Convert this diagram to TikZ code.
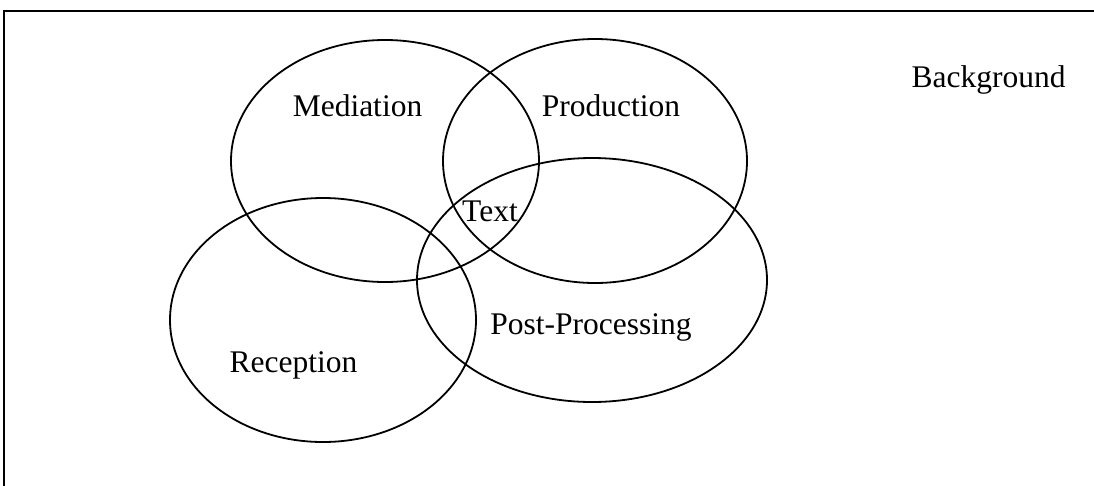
\documentclass[tikz,border=0pt]{standalone}
\usepackage{fontspec}
\setmainfont{Liberation Serif}
\begin{document}
\begin{tikzpicture}[x=1pt,y=-1pt,
  ring/.style={draw=black,line width=1.8pt},
  lbl/.style={anchor=base,inner sep=0pt,font=\fontsize{31.5}{37}\selectfont}]
\useasboundingbox (0,0) rectangle (1094,485);
% frame
\draw[line width=2pt] (4,486) -- (4,11) -- (1095,11);
% ellipses
\draw[ring] (385,161) ellipse [x radius=154, y radius=121];
\draw[ring] (595,161) ellipse [x radius=152, y radius=122];
\draw[ring] (592,280) ellipse [x radius=175, y radius=122];
\draw[ring] (323,320) ellipse [x radius=153, y radius=122];
% labels
\node[lbl] (med) at (357.5,116) {Mediation};
\node[lbl] (prod) at (611,116) {Production};
\node[lbl] (bg) at (988.5,87) {Background};
\node[lbl] (txt) at (490,221) {Text};
\node[lbl] (pp) at (591,334) {Post-Processing};
\node[lbl] (rec) at (293.5,372) {Reception};
\end{tikzpicture}
\end{document}
